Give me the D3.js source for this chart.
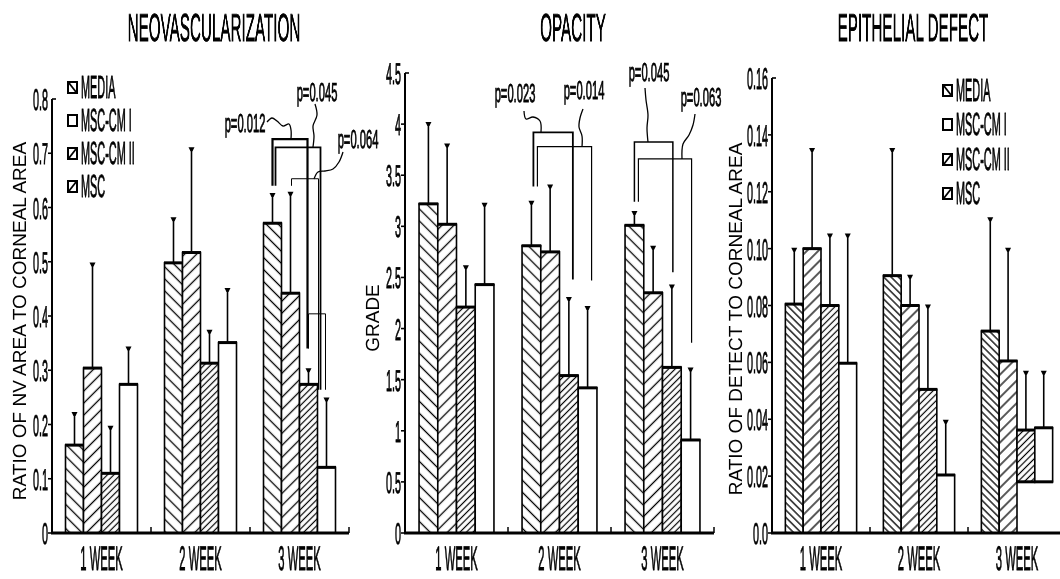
<!DOCTYPE html>
<html><head><meta charset="utf-8">
<script src="https://cdn.jsdelivr.net/npm/d3@7"></script>
<style>
html,body{margin:0;padding:0;background:#fff;}
svg{display:block;font-family:"Liberation Sans",Arial,sans-serif;will-change:transform;}
text{-webkit-font-smoothing:antialiased;text-rendering:geometricPrecision;}
</style></head><body>
<svg id="chart" width="1060" height="579"></svg>
<script>
// ---------- DATA ----------
const weeks = ["1 WEEK", "2 WEEK", "3 WEEK"];
const seriesNames = ["MEDIA", "MSC-CM I", "MSC-CM II", "MSC"];

// Neovascularization: ratio of NV area to corneal area (mean, and mean+SD tops)
const nvMean = [[0.162, 0.304, 0.110, 0.274], [0.498, 0.517, 0.313, 0.351], [0.571, 0.442, 0.274, 0.121]];
const nvErr  = [[0.221, 0.497, 0.196, 0.342], [0.580, 0.709, 0.373, 0.450], [0.625, 0.627, 0.302, 0.248]];
const nvTicks = ["0", "0.1", "0.2", "0.3", "0.4", "0.5", "0.6", "0.7", "0.8"];
const nvPvalues = ["p=0.012", "p=0.045", "p=0.064"];

// Opacity: grade
const opMean = [[3.22, 3.02, 2.21, 2.43], [2.81, 2.75, 1.54, 1.42], [3.01, 2.35, 1.62, 0.91]];
const opErr  = [[4.01, 3.80, 2.61, 3.22], [3.24, 3.40, 2.30, 2.21], [3.14, 2.80, 2.42, 1.61]];
const opTicks = ["0", "0.5", "1", "1.5", "2", "2.5", "3", "3.5", "4", "4.5"];
const opPvalues = ["p=0.023", "p=0.014", "p=0.045", "p=0.063"];

// Epithelial defect: ratio of defect to corneal area
const edMean = [[0.0805, 0.100, 0.080, 0.0597], [0.0905, 0.080, 0.0505, 0.0204], [0.071, 0.0605, 0.0362, 0.037]];
const edErr  = [[0.100, 0.135, 0.105, 0.105], [0.135, 0.0905, 0.080, 0.0395], [0.1107, 0.100, 0.0567, 0.0567]];
const edBase = [[0, 0, 0, 0], [0, 0, 0, 0], [0, 0, 0.018, 0.018]];
const edTicks = ["0.0", "0.02", "0.04", "0.06", "0.08", "0.10", "0.12", "0.14", "0.16"];

// ---------- DRAWING ----------
const svg = d3.select("#chart");
const defs = svg.append("defs");
const root = svg.append("g").attr("opacity", 0.999);

function hatch(id, size, angle, sw) {
  const p = defs.append("pattern").attr("id", id)
    .attr("patternUnits", "userSpaceOnUse")
    .attr("width", size).attr("height", size)
    .attr("patternTransform", `rotate(${angle})`);
  p.append("rect").attr("width", size).attr("height", size).attr("fill", "#fff");
  p.append("line").attr("x1", size / 2).attr("y1", -1).attr("x2", size / 2).attr("y2", size + 1)
    .attr("stroke", "#000").attr("stroke-width", sw);
}

function ctext(g, x, y, str, size, sx, anchor) {
  return g.append("text")
    .attr("transform", `translate(${x},${y}) scale(${sx},1)`)
    .attr("text-anchor", anchor || "middle")
    .style("font-size", size + "px")
    .attr("fill", "#000")
    .attr("stroke", "#000").attr("stroke-width", 0.9)
    .text(str);
}

const panels = [
  { title: "NEOVASCULARIZATION", titleX: 214, ylabel: "RATIO OF NV AREA TO CORNEAL AREA", ylx: 26, yly: 321,
    xr: [52, 349], yr: [533, 99], ticks: nvTicks, mean: nvMean, err: nvErr, base: null,
    legend: { x: 68, rows: [87, 120, 153, 186] }, hatch: [8.5, 8.5, 4.6] },
  { title: "OPACITY", titleX: 573, ylabel: "GRADE", ylx: 379, yly: 318,
    xr: [405, 714], yr: [533, 73], ticks: opTicks, mean: opMean, err: opErr, base: null,
    legend: null, hatch: [8.5, 8.5, 4.6] },
  { title: "EPITHELIAL DEFECT", titleX: 913, ylabel: "RATIO OF DETECT TO CORNEAL AREA", ylx: 742, yly: 319,
    xr: [772, 1066], yr: [533, 78], ticks: edTicks, mean: edMean, err: edErr, base: edBase,
    legend: { x: 943, rows: [90, 124, 159, 193] }, hatch: [5.2, 8, 4.6] }
];

const scales = [];

panels.forEach((P, pi) => {
  const g = root.append("g");
  hatch(`m${pi}`, P.hatch[0], -45, 1.3);
  hatch(`c1${pi}`, P.hatch[1], 45, 1.3);
  hatch(`c2${pi}`, P.hatch[2], 45, 1.2);
  const fills = [`url(#m${pi})`, `url(#c1${pi})`, "url(#c2" + pi + ")", "#fff"];

  const tickVals = P.ticks.map(Number);
  const y = d3.scaleLinear().domain([0, tickVals[tickVals.length - 1]]).range(P.yr);
  const x0 = d3.scaleBand().domain(weeks).range(P.xr).padding(0);
  const x1 = d3.scaleBand().domain(seriesNames).range([0, x0.bandwidth()]).paddingInner(0).paddingOuter(0.75);
  scales.push({ x0, x1, y });

  // title
  ctext(g, P.titleX, 41, P.title, 39, 0.39);

  // y-axis label
  g.append("text")
    .attr("transform", `translate(${P.ylx},${P.yly}) rotate(-90)`)
    .attr("text-anchor", "middle")
    .style("font-size", "19px")
    .attr("fill", "#000")
    .text(P.ylabel);

  // bars
  weeks.forEach((w, wi) => {
    seriesNames.forEach((s, si) => {
      const v = P.mean[wi][si];
      const b = P.base ? P.base[wi][si] : 0;
      const bx = x0(w) + x1(s), bw = x1.bandwidth();
      g.append("rect")
        .attr("x", bx).attr("y", y(v))
        .attr("width", bw).attr("height", y(b) - y(v))
        .attr("fill", fills[si]).attr("stroke", "#000").attr("stroke-width", 1.6);
      g.append("line").attr("x1", bx - 0.5).attr("x2", bx + bw + 0.5)
        .attr("y1", y(v)).attr("y2", y(v)).attr("stroke", "#000").attr("stroke-width", 3);
      if (b > 0) {
        g.append("line").attr("x1", bx - 0.5).attr("x2", bx + bw + 0.5)
          .attr("y1", y(b)).attr("y2", y(b)).attr("stroke", "#000").attr("stroke-width", 3);
      }
      // error bar
      const cx = bx + bw / 2, e = P.err[wi][si];
      g.append("line").attr("x1", cx).attr("x2", cx).attr("y1", y(v)).attr("y2", y(e))
        .attr("stroke", "#000").attr("stroke-width", 1.6);
      g.append("path")
        .attr("d", `M${cx - 3},${y(e) - 1}L${cx + 3},${y(e) - 1}L${cx + 1},${y(e) + 3}L${cx - 1},${y(e) + 3}Z`)
        .attr("fill", "#000");
    });
  });

  // y axis
  g.append("line").attr("x1", P.xr[0]).attr("x2", P.xr[0])
    .attr("y1", y(tickVals[tickVals.length - 1])).attr("y2", P.yr[0])
    .attr("stroke", "#000").attr("stroke-width", 2);
  P.ticks.forEach((t, ti) => {
    const ty = y(+t);
    const top = ti === P.ticks.length - 1;
    g.append("line").attr("x1", top ? P.xr[0] : P.xr[0] - 4).attr("x2", top ? P.xr[0] + 4 : P.xr[0])
      .attr("y1", ty).attr("y2", ty).attr("stroke", "#000").attr("stroke-width", 1.6);
    ctext(g, P.xr[0] - 4, ty + 11, t, 30, 0.36, "end");
  });

  // x axis
  g.append("line").attr("x1", P.xr[0] - 1).attr("x2", Math.min(P.xr[1], 1060))
    .attr("y1", P.yr[0]).attr("y2", P.yr[0]).attr("stroke", "#000").attr("stroke-width", 3);
  weeks.forEach(w => {
    const ex = x0(w) + x0.bandwidth();
    g.append("line").attr("x1", ex).attr("x2", ex).attr("y1", P.yr[0]).attr("y2", P.yr[0] - 6)
      .attr("stroke", "#000").attr("stroke-width", 1.5);
    ctext(g, x0(w) + x0.bandwidth() / 2, 570, w, 34, 0.33);
  });

  // legend
  if (P.legend) {
    seriesNames.forEach((s, si) => {
      const ry = P.legend.rows[si];
      const lx = P.legend.x, ly = ry - 5;
      g.append("rect").attr("x", lx).attr("y", ly).attr("width", 9).attr("height", 11)
        .attr("fill", "#fff").attr("stroke", "#000").attr("stroke-width", 2);
      if (si === 0) g.append("line").attr("x1", lx + 1).attr("y1", ly + 1).attr("x2", lx + 8).attr("y2", ly + 10).attr("stroke", "#000").attr("stroke-width", 1.8);
      if (si >= 2) g.append("line").attr("x1", lx + 1).attr("y1", ly + 10).attr("x2", lx + 8).attr("y2", ly + 1).attr("stroke", "#000").attr("stroke-width", 1.8);
      ctext(g, lx + 13, ry + 11, s, 32, 0.34, "start");
    });
  }
});

// ---------- SIGNIFICANCE BRACKETS ----------
function bracket(pi, wi, B) {
  const { x0, x1, y } = scales[pi];
  const w = weeks[wi];
  const xa = x0(w) + x1(seriesNames[B.a]) + x1.bandwidth() / 2 + B.dxA;
  const xb = x0(w) + x1(seriesNames[B.b]) + x1.bandwidth() / 2 + B.dxB;
  root.append("path")
    .attr("d", `M${xa},${y(B.endA)}V${y(B.top)}H${xb}V${y(B.endB)}`)
    .attr("fill", "none").attr("stroke", "#000").attr("stroke-width", B.w);
}
function leader(label, lx, ly, pts) {
  ctext(root, lx, ly, label, 26, 0.43);
  root.append("path")
    .attr("d", d3.line().curve(d3.curveCatmullRom)(pts))
    .attr("fill", "none").attr("stroke", "#000").attr("stroke-width", 1.3);
}

// Neovascularization, week 3
[
  { a: 0, b: 2, top: 0.726, endA: 0.64, endB: 0.34, dxA: 0, dxB: -1, w: 2.2 },
  { a: 0, b: 3, top: 0.711, endA: 0.64, endB: 0.264, dxA: 3, dxB: -6, w: 1.8 },
  { a: 1, b: 3, top: 0.653, endA: 0.64, endB: 0.264, dxA: 1, dxB: -8, w: 1 },
  { a: 2, b: 3, top: 0.404, endA: 0.34, endB: 0.264, dxA: 0, dxB: -1, w: 1 }
].forEach(B => bracket(0, 2, B));
leader(nvPvalues[0], 245, 132, [[267, 122], [272, 118], [277, 121], [283, 126], [289, 124], [291, 130], [291, 139]]);
leader(nvPvalues[1], 317, 101, [[315, 104], [317, 115], [313, 126], [314, 136], [313, 147]]);
leader(nvPvalues[2], 358, 148, [[343, 152], [339, 162], [333, 169], [325, 171], [318, 172], [314, 179]]);

// Opacity, weeks 2 and 3
[
  { a: 0, b: 2, top: 3.92, endA: 3.39, endB: 2.48, dxA: 2, dxB: 4, w: 1.8 },
  { a: 0, b: 3, top: 3.78, endA: 3.39, endB: 2.47, dxA: 6, dxB: 4, w: 1.2 }
].forEach(B => bracket(1, 1, B));
[
  { a: 0, b: 2, top: 3.826, endA: 3.24, endB: 2.55, dxA: 0, dxB: 1, w: 1.5 },
  { a: 0, b: 3, top: 3.66, endA: 3.24, endB: 1.86, dxA: 4, dxB: 1, w: 1.2 }
].forEach(B => bracket(1, 2, B));
leader(opPvalues[0], 515, 102, [[524, 111], [526, 119], [533, 117], [540, 121], [541, 132]]);
leader(opPvalues[1], 584, 99, [[583, 109], [580, 118], [579, 127], [582, 136], [582, 147]]);
leader(opPvalues[2], 649, 81, [[645, 88], [646, 100], [648, 115], [647, 128], [648, 142]]);
leader(opPvalues[3], 701, 106, [[695, 114], [693, 125], [689, 135], [683, 144], [682, 159]]);
</script>
</body></html>
